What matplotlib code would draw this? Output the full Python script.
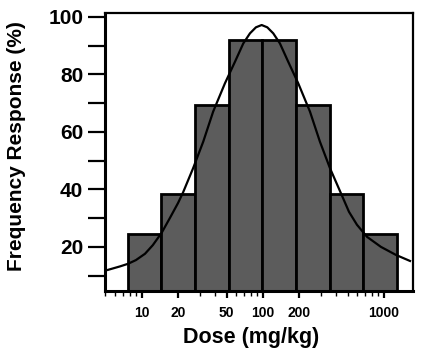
import numpy as np
import matplotlib
matplotlib.use("Agg")
import matplotlib.pyplot as plt
from matplotlib.ticker import FixedLocator, NullFormatter, LogLocator

plt.rcParams['font.family'] = ['Liberation Sans', 'DejaVu Sans']
plt.rcParams['font.weight'] = 'bold'

# Histogram bins (dose, mg/kg) and frequency response (%)
bin_edges = [7.66, 14.5, 27.5, 52.2, 99, 188, 356, 675, 1280]
bar_heights = [24.5, 38.5, 69.5, 92, 92, 69.5, 38.5, 24.5]

# Fitted curve
curve_dose = [5.24, 6.58, 7.66, 8.92, 10.6, 12.3, 14.6, 17.0, 19.9, 21.9, 26.5,
              32.1, 38.8, 48.5, 58.7, 68.8, 78.1, 87.5, 97.6, 108.6, 121.7,
              138.1, 161.8, 195.8, 244.5, 295.7, 357.8, 446.9, 514, 598, 724,
              944, 1256, 1641]
curve_resp = [12.0, 13.2, 14.1, 15.4, 17.6, 20.6, 25.0, 30.0, 35.3, 39.0, 47.4,
              56.6, 67.1, 76.9, 84.4, 90.8, 94.3, 96.4, 97.2, 96.4, 94.3,
              90.8, 84.4, 76.9, 67.1, 56.6, 47.4, 38.1, 32.2, 27.7, 23.5,
              20.0, 17.2, 15.1]

x_ticks = [10, 20, 50, 100, 200, 1000]
x_ticklabels = ['10', '20', '50', '100', '200', '1000']
y_ticks = [20, 40, 60, 80, 100]
y_minor = [10, 30, 50, 70, 90]

fig = plt.figure(figsize=(4.28, 3.5), dpi=100)
ax = fig.add_axes([0.245, 0.169, 0.72, 0.794])

widths = np.diff(bin_edges)
ax.bar(bin_edges[:-1], bar_heights, width=widths, align='edge',
       color='#5c5c5c', edgecolor='black', linewidth=2.0, zorder=2)
ax.plot(curve_dose, curve_resp, color='black', linewidth=1.6, zorder=3,
        solid_joinstyle='round')

ax.set_xscale('log')
ax.set_xlim(4.94, 1738)
ax.set_ylim(4.7, 101.4)

ax.xaxis.set_major_locator(FixedLocator(x_ticks))
ax.set_xticklabels(x_ticklabels)
ax.xaxis.set_minor_locator(LogLocator(base=10, subs=np.arange(2, 10)))
ax.xaxis.set_minor_formatter(NullFormatter())

ax.yaxis.set_major_locator(FixedLocator(y_ticks))
ax.yaxis.set_minor_locator(FixedLocator(y_minor))

ax.tick_params(axis='y', which='both', direction='out', length=12.5, width=1.6,
               labelsize=15, pad=3)
ax.tick_params(axis='x', which='major', direction='out', length=5, width=1.6,
               labelsize=10, pad=6)
ax.tick_params(axis='x', which='minor', direction='out', length=3.5, width=1.0)
for lab in ax.get_xticklabels() + ax.get_yticklabels():
    lab.set_fontweight('bold')

for side in ['left', 'bottom']:
    ax.spines[side].set_linewidth(2.2)
for side in ['top', 'right']:
    ax.spines[side].set_linewidth(1.6)

ax.set_xlabel('Dose (mg/kg)', fontsize=15.5, fontweight='bold', labelpad=4)
ax.xaxis.set_label_coords(0.474, -0.13)
ax.set_ylabel('Frequency Response (%)', fontsize=15, fontweight='bold')
ax.yaxis.set_label_coords(-0.255, 0.52)

fig.savefig('out.png', dpi=100)
